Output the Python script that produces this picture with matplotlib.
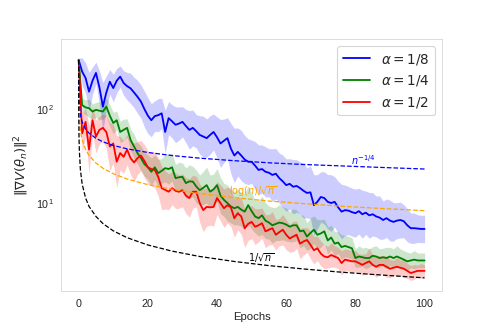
"""Gradient norm vs epochs for three step-size exponents, with reference rate curves."""

import numpy as np
import matplotlib
matplotlib.use("Agg")
import matplotlib.pyplot as plt
import seaborn as sns

# ── data ─────────────────────────────────────────────────────────────────────
epochs = list(range(101))

grad_a8 = [
    332, 250, 214, 153, 200, 242, 170, 106, 150, 195,
    167, 200, 221, 189, 175, 166, 150, 135, 120, 100,
    85, 76, 84, 86, 90, 57, 80, 74, 68, 70,
    73, 66, 60, 63, 58, 53, 51, 49, 53, 57,
    50, 43, 46, 49, 38, 32, 35, 32, 29, 27.5,
    27.5, 25, 22.5, 23, 21.5, 21, 19.9, 20.5, 18.4, 17,
    15.5, 16, 14.9, 15.2, 14.4, 13.5, 12.8, 13, 9.5, 10.3,
    11.6, 11.3, 10.3, 10, 10.3, 9, 8.1, 8.4, 8.3, 8.0,
    7.8, 8.2, 7.6, 7.9, 7.4, 7.6, 7.2, 7.0, 6.6, 6.9,
    6.5, 6.3, 6.5, 6.6, 6.4, 5.8, 5.4, 5.4, 5.35, 5.3,
    5.3,
]
grad_a4 = [
    332, 110, 104, 102, 94, 98, 96, 94, 106, 85,
    71, 76, 57, 60, 63, 47, 40, 34, 30, 26,
    24, 21.5, 24, 20.8, 22, 23.5, 23, 24, 18.4, 18.8,
    19, 16.3, 17, 16.9, 15, 13.7, 14.5, 15.5, 13.2, 14,
    15.5, 12, 10.8, 10, 9.2, 8.8, 9.1, 8.5, 8.1, 9.5,
    8.2, 7.2, 6.9, 7.4, 6.5, 6.2, 5.8, 6.0, 6.2, 6.1,
    5.9, 5.6, 5.8, 5.8, 5.0, 5.1, 4.4, 4.8, 5.2, 4.6,
    4.75, 5.0, 4.0, 4.3, 3.7, 3.8, 3.4, 3.5, 3.4, 3.3,
    2.6, 2.7, 2.65, 2.6, 2.6, 2.75, 2.7, 2.6, 2.65, 2.6,
    2.7, 2.6, 2.7, 2.6, 2.5, 2.4, 2.45, 2.5, 2.45, 2.45,
    2.45,
]
grad_a2 = [
    332, 55, 73, 37, 76, 51, 60, 63, 57, 40,
    43, 27.5, 34, 31, 37, 30, 27, 30, 32, 28,
    24, 23, 22.5, 19, 14.4, 13.8, 13.2, 14.4, 13.5, 13.2,
    13.7, 12, 11.3, 13.2, 13.2, 10, 8.4, 9.1, 9.0, 9.1,
    11.3, 10, 8.8, 9.5, 9, 6.9, 7.8, 7.2, 5.4, 6.0,
    6.3, 5.6, 5.8, 6.1, 5.0, 5.2, 5.4, 4.6, 4.9, 5.2,
    4.6, 4.2, 4.4, 4.6, 3.7, 3.9, 4.05, 3.6, 3.15, 3.3,
    2.9, 2.7, 2.65, 2.8, 2.7, 2.6, 2.3, 2.5, 2.45, 2.4,
    2.4, 2.3, 2.2, 2.3, 2.4, 2.2, 2.1, 2.2, 2.2, 2.1,
    2.0, 2.05, 2.1, 2.05, 2.0, 1.9, 1.8, 1.85, 1.9, 1.9,
    1.9,
]

# multiplicative half-width of the shaded band (upper = mean*f, lower = mean/f)
spread_a8 = [
    1.05, 1.4, 1.45, 1.6, 1.4, 1.3, 1.5, 1.8, 1.5, 1.35,
    1.4, 1.35, 1.3, 1.35, 1.4, 1.45, 1.45, 1.5, 1.5, 1.55,
    1.55, 1.5, 1.45, 1.5, 1.45, 1.7, 1.5, 1.5, 1.55, 1.5,
    1.45, 1.5, 1.6, 1.55, 1.5, 1.6, 1.65, 1.6, 1.6, 1.55,
    1.65, 1.8, 1.7, 1.65, 1.85, 1.95, 1.8, 1.85, 1.8, 1.75,
    1.7, 1.8, 1.85, 1.8, 1.85, 1.8, 1.9, 1.85, 1.85, 1.9,
    1.9, 1.85, 1.95, 1.9, 1.9, 1.95, 1.85, 1.9, 2.1, 1.95,
    1.85, 1.9, 1.95, 2.0, 1.85, 1.9, 1.95, 1.85, 1.8, 1.8,
    1.8, 1.75, 1.8, 1.7, 1.75, 1.7, 1.65, 1.7, 1.6, 1.6,
    1.65, 1.6, 1.55, 1.55, 1.5, 1.5, 1.45, 1.45, 1.4, 1.4,
    1.4,
]
spread_a4 = [
    1.05, 1.2, 1.2, 1.25, 1.2, 1.2, 1.25, 1.2, 1.25, 1.3,
    1.3, 1.25, 1.3, 1.3, 1.25, 1.3, 1.35, 1.3, 1.35, 1.35,
    1.35, 1.4, 1.35, 1.4, 1.35, 1.4, 1.45, 1.4, 1.4, 1.45,
    1.4, 1.45, 1.5, 1.45, 1.5, 1.45, 1.5, 1.55, 1.5, 1.45,
    1.5, 1.55, 1.5, 1.55, 1.5, 1.5, 1.55, 1.5, 1.55, 1.6,
    1.55, 1.5, 1.55, 1.6, 1.55, 1.5, 1.55, 1.5, 1.55, 1.5,
    1.5, 1.45, 1.5, 1.45, 1.5, 1.45, 1.4, 1.45, 1.4, 1.45,
    1.4, 1.35, 1.4, 1.35, 1.35, 1.3, 1.35, 1.3, 1.3, 1.3,
    1.25, 1.3, 1.25, 1.3, 1.25, 1.25, 1.3, 1.25, 1.25, 1.3,
    1.25, 1.25, 1.3, 1.25, 1.25, 1.25, 1.2, 1.25, 1.2, 1.2,
    1.2,
]
spread_a2 = [
    1.1, 1.6, 1.4, 1.8, 1.4, 1.5, 1.4, 1.4, 1.5, 1.8,
    1.6, 1.9, 1.5, 1.5, 1.45, 1.5, 1.6, 1.5, 1.45, 1.5,
    1.5, 1.5, 1.55, 1.6, 1.7, 1.6, 1.55, 1.5, 1.55, 1.5,
    1.5, 1.55, 1.6, 1.5, 1.45, 1.6, 1.7, 1.6, 1.55, 1.6,
    1.5, 1.55, 1.6, 1.55, 1.6, 1.6, 1.5, 1.55, 1.6, 1.5,
    1.5, 1.55, 1.5, 1.45, 1.5, 1.45, 1.5, 1.45, 1.4, 1.45,
    1.45, 1.4, 1.45, 1.4, 1.45, 1.4, 1.35, 1.4, 1.4, 1.35,
    1.35, 1.35, 1.3, 1.35, 1.3, 1.3, 1.35, 1.3, 1.3, 1.3,
    1.3, 1.25, 1.3, 1.25, 1.4, 1.25, 1.3, 1.25, 1.25, 1.3,
    1.25, 1.2, 1.25, 1.2, 1.25, 1.2, 1.2, 1.2, 1.15, 1.2,
    1.15,
]

# reference rate curves, sampled at these epochs
ref_epochs = [0, 0.02, 0.05, 0.1, 0.2, 0.5, 1, 2, 3, 5, 7, 10, 14, 20, 27,
              35, 45, 55, 65, 75, 85, 100]
rate_quarter = [332, 194, 154, 130, 109, 86.7, 72.9, 61.3, 55.4, 48.8, 44.8,
                41.0, 37.7, 34.5, 32.0, 30.0, 28.2, 26.8, 25.7, 24.9, 24.1, 23.0]
rate_log = [106, 104, 100, 92, 77.3, 59, 47, 37.1, 32.1, 26.6, 23.5, 20.5,
            18.0, 15.7, 14.0, 12.6, 11.4, 10.5, 9.86, 9.3, 8.85, 8.3]
rate_sqrt = [332, 113, 71.6, 50.6, 35.8, 22.6, 16.0, 11.3, 9.2, 7.2, 6.05,
             5.06, 4.28, 3.58, 3.08, 2.7, 2.39, 2.16, 1.99, 1.85, 1.74, 1.6]

series = [
    (r"$\alpha = 1/8$", grad_a8, spread_a8, "blue"),
    (r"$\alpha = 1/4$", grad_a4, spread_a4, "green"),
    (r"$\alpha = 1/2$", grad_a2, spread_a2, "red"),
]

# ── style ────────────────────────────────────────────────────────────────────
sns.set_style("white")
plt.rcParams["font.family"] = ["Liberation Sans", "DejaVu Sans"]

fig, ax = plt.subplots(figsize=(6, 4), dpi=81.83)

for label, mean, spread, color in series:
    mean = np.array(mean, dtype=float)
    spread = np.array(spread, dtype=float)
    ax.fill_between(epochs, mean / spread, mean * spread, color=color,
                    alpha=0.2, linewidth=0)
    ax.plot(epochs, mean, color=color, linewidth=1.6, label=label)

ax.plot(ref_epochs, rate_quarter, color="blue", linestyle="--", linewidth=1.1)
ax.plot(ref_epochs, rate_log, color="orange", linestyle="--", linewidth=1.1)
ax.plot(ref_epochs, rate_sqrt, color="black", linestyle="--", linewidth=1.1)

ax.text(82.3, 28.6, r"$n^{-1/4}$", color="blue", fontsize=8.5,
        ha="center", va="center")
ax.text(50.4, 13.4, r"$\log(n)/\sqrt{n}$", color="orange", fontsize=8.5,
        ha="center", va="center")
ax.text(52.7, 2.63, r"$1/\sqrt{n}$", color="black", fontsize=8.5,
        ha="center", va="center")

ax.set_yscale("log")
ax.set_xlim(-5, 105)
ax.set_ylim(1.16, 556)
ax.set_xticks([0, 20, 40, 60, 80, 100])
ax.tick_params(axis="both", labelsize=9.5, colors=".15")
ax.tick_params(axis="y", which="minor", left=False)

ax.set_xlabel("Epochs", fontsize=10, color=".15", labelpad=2)
ax.set_ylabel(r"$\|\nabla V(\theta_n)\|^2$", fontsize=11.5, color=".15")

for spine in ax.spines.values():
    spine.set_color(".85")

ax.legend(loc="upper right", fontsize=12)

plt.savefig("out.png", dpi=81.83)
